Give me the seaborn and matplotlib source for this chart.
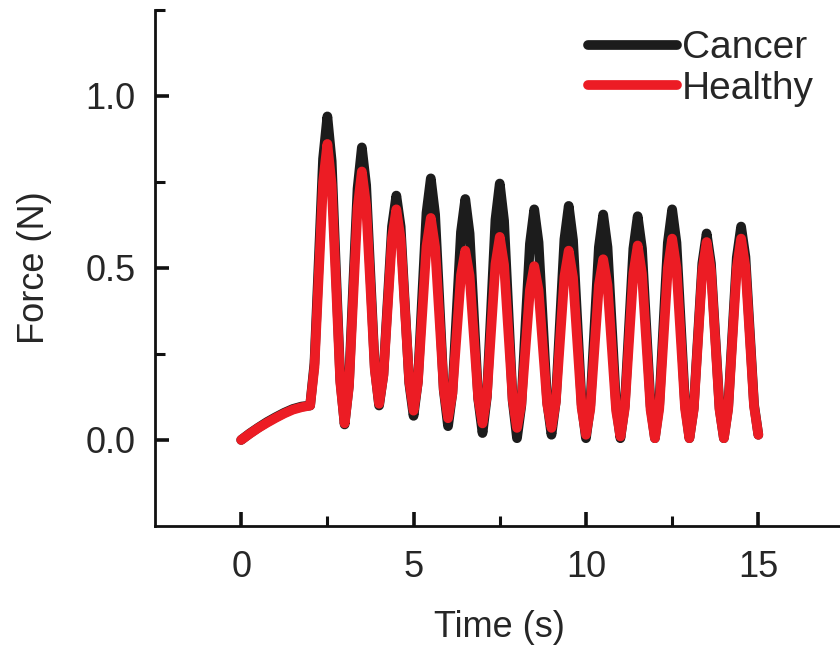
import numpy as np
import pandas as pd
import matplotlib
matplotlib.use("Agg")
import matplotlib.pyplot as plt
import seaborn as sns

# Sampling grid of the traces (s)
ramp_time = [0.0, 0.25, 0.5, 0.75, 1.0, 1.25, 1.5, 1.75]
cycle_time = list(np.round(np.arange(2.0, 15.0001, 0.125), 3))

# Force values (N)
cancer_ramp = [0.0, 0.019, 0.036, 0.052, 0.066, 0.079, 0.090, 0.097]
healthy_ramp = [0.0, 0.018, 0.035, 0.050, 0.064, 0.077, 0.088, 0.095]

cancer_cycle = [
    0.10, 0.223, 0.52, 0.817,
    0.94, 0.81, 0.49, 0.175,
    0.045, 0.16, 0.45, 0.73,
    0.85, 0.74, 0.475, 0.21,
    0.10, 0.19, 0.405, 0.62,
    0.71, 0.62, 0.39, 0.165,
    0.07, 0.17, 0.415, 0.66,
    0.76, 0.655, 0.40, 0.145,
    0.04, 0.136, 0.37, 0.604,
    0.70, 0.60, 0.36, 0.12,
    0.02, 0.125, 0.38, 0.64,
    0.745, 0.637, 0.375, 0.113,
    0.005, 0.10, 0.34, 0.57,
    0.67, 0.574, 0.343, 0.111,
    0.015, 0.112, 0.348, 0.583,
    0.68, 0.581, 0.343, 0.104,
    0.005, 0.10, 0.33, 0.56,
    0.655, 0.56, 0.33, 0.10,
    0.005, 0.099, 0.328, 0.556,
    0.65, 0.556, 0.328, 0.099,
    0.005, 0.102, 0.338, 0.573,
    0.67, 0.573, 0.338, 0.102,
    0.005, 0.092, 0.303, 0.513,
    0.60, 0.513, 0.303, 0.092,
    0.005, 0.095, 0.313, 0.53,
    0.62, 0.532, 0.318, 0.103,
    0.015,
]

healthy_cycle = [
    0.10, 0.211, 0.48, 0.749,
    0.86, 0.741, 0.454, 0.167,
    0.048, 0.155, 0.414, 0.673,
    0.78, 0.681, 0.443, 0.204,
    0.105, 0.187, 0.388, 0.587,
    0.67, 0.585, 0.378, 0.17,
    0.085, 0.167, 0.365, 0.563,
    0.645, 0.56, 0.354, 0.148,
    0.063, 0.134, 0.307, 0.479,
    0.55, 0.477, 0.299, 0.121,
    0.048, 0.127, 0.319, 0.511,
    0.59, 0.509, 0.313, 0.116,
    0.035, 0.104, 0.27, 0.436,
    0.505, 0.436, 0.27, 0.104,
    0.035, 0.11, 0.293, 0.475,
    0.55, 0.472, 0.283, 0.093,
    0.015, 0.089, 0.27, 0.45,
    0.525, 0.45, 0.268, 0.085,
    0.01, 0.091, 0.288, 0.484,
    0.565, 0.483, 0.285, 0.087,
    0.005, 0.09, 0.295, 0.50,
    0.585, 0.50, 0.295, 0.09,
    0.005, 0.088, 0.29, 0.492,
    0.575, 0.492, 0.29, 0.088,
    0.005, 0.09, 0.295, 0.50,
    0.585, 0.502, 0.30, 0.098,
    0.015,
]

groups = ["Cancer", "Healthy"]
colors = {"Cancer": "#1c1c1c", "Healthy": "#ec1c24"}

time = ramp_time + cycle_time
df = pd.concat([
    pd.DataFrame({"Time": time, "Force": cancer_ramp + cancer_cycle, "Group": "Cancer"}),
    pd.DataFrame({"Time": time, "Force": healthy_ramp + healthy_cycle, "Group": "Healthy"}),
], ignore_index=True)

sns.set_theme(style="ticks")
plt.rcParams.update({
    "font.family": ["Liberation Sans", "DejaVu Sans"],
    "text.color": "#262626",
    "axes.labelcolor": "#262626",
    "xtick.labelsize": 26,
    "ytick.labelsize": 26,
})

fig = plt.figure(figsize=(8.4, 6.48), dpi=100)
ax = fig.add_axes([0.1845, 0.1883, 0.8209, 0.7967])

sns.lineplot(data=df, x="Time", y="Force", hue="Group", hue_order=groups,
             palette=colors, linewidth=7, sort=False, estimator=None, ax=ax,
             solid_joinstyle="round")

ax.set_xlim(-2.5, 17.5)
ax.set_ylim(-0.25, 1.25)
ax.set_xticks([0, 5, 10, 15])
ax.set_xticklabels(["0", "5", "10", "15"])
ax.set_yticks([0.0, 0.5, 1.0])
ax.set_yticklabels(["0.0", "0.5", "1.0"])
ax.set_xticks([2.5, 7.5, 12.5, 17.5], minor=True)
ax.set_yticks([0.25, 0.75, 1.25], minor=True)

for side in ["top", "right"]:
    ax.spines[side].set_visible(False)
for side in ["left", "bottom"]:
    ax.spines[side].set_linewidth(2.0)
    ax.spines[side].set_color("#111111")

ax.tick_params(axis="both", which="both", direction="in", bottom=True, left=True,
               top=False, right=False, color="#111111", labelcolor="#262626")
ax.tick_params(axis="both", which="major", length=10, width=2.6)
ax.tick_params(axis="both", which="minor", length=7, width=2.2)
ax.tick_params(axis="x", which="major", pad=17)
ax.tick_params(axis="y", which="major", pad=14)

ax.set_xlabel("Time (s)", fontsize=26, labelpad=18)
ax.set_ylabel("Force (N)", fontsize=26, labelpad=24)

leg = ax.legend(loc="upper right", bbox_to_anchor=(0.978, 0.99), frameon=False,
                fontsize=28, handlelength=2.3, handletextpad=0.12, labelspacing=0.12,
                borderaxespad=0.0)
for line in leg.get_lines():
    line.set_linewidth(7)

fig.savefig("out.png", dpi=100)
